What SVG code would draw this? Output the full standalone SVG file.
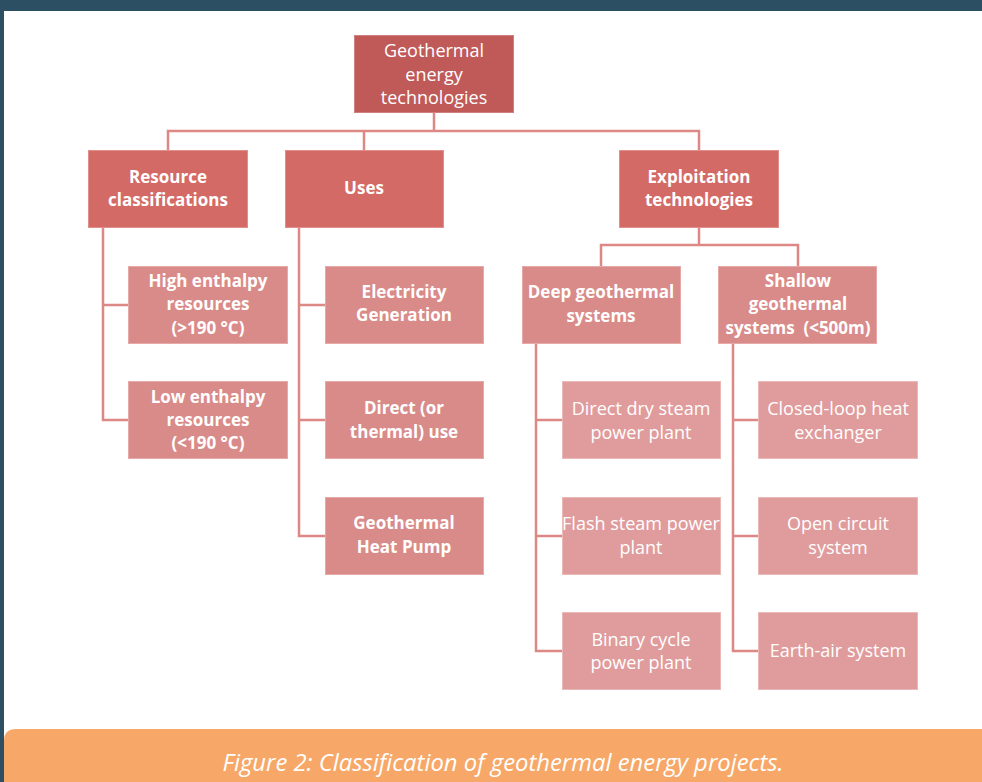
<svg xmlns="http://www.w3.org/2000/svg" width="982" height="782" viewBox="0 0 982 782">
<style>
.t{font-family:"Open Sans","Liberation Sans",sans-serif;fill:#fff;text-anchor:middle;dominant-baseline:central}
.b{font-weight:bold;font-size:17px}
.r{font-size:18px}
.l1{fill:#c05a58;stroke:#cf807e;stroke-width:1}
.l2{fill:#d46a66;stroke:#e08f8c;stroke-width:1}
.l3{fill:#d98b89;stroke:#e6a9a7;stroke-width:1}
.l4{fill:#e09c9c;stroke:#ebb9b8;stroke-width:1}
.c{fill:none;stroke:#dc8985;stroke-width:2.5}
</style>
<rect x="0" y="0" width="982" height="782" fill="#2c4f63"/>
<rect x="4" y="11" width="978" height="771" fill="#ffffff"/>
<g id="connectors">
<path class="c" d="M434 113V131M168 150V131H699V150M364 131V150"/>
<path class="c" d="M103 228V420H128M103 305H128"/>
<path class="c" d="M299 228V536H325M299 305H325M299 420H325"/>
<path class="c" d="M699 228V245M601 266V245H798V266"/>
<path class="c" d="M536 344V651H562M536 420H562M536 536H562"/>
<path class="c" d="M733 344V651H758M733 420H758M733 536H758"/>
</g>
<g id="n-root"><rect class="l1" x="354.5" y="35.5" width="159" height="77"/><text class="t r" x="434" y="49.5">Geothermal</text><text class="t r" x="434" y="73.5">energy</text><text class="t r" x="434" y="96.5">technologies</text></g>
<g id="n-resource"><rect class="l2" x="88.5" y="150.5" width="159" height="77"/><text class="t b" x="168" y="176.5">Resource</text><text class="t b" x="168" y="199.5">classifications</text></g>
<g id="n-uses"><rect class="l2" x="285.5" y="150.5" width="158" height="77"/><text class="t b" x="364" y="187.5">Uses</text></g>
<g id="n-exploit"><rect class="l2" x="619.5" y="150.5" width="159" height="77"/><text class="t b" x="699" y="176.5">Exploitation</text><text class="t b" x="699" y="199.5">technologies</text></g>
<g id="n-high"><rect class="l3" x="128.5" y="266.5" width="159" height="77"/><text class="t b" x="208" y="280.5">High enthalpy</text><text class="t b" x="208" y="303.5">resources</text><text class="t b" x="208" y="327.5">(&gt;190 °C)</text></g>
<g id="n-low"><rect class="l3" x="128.5" y="381.5" width="159" height="77"/><text class="t b" x="208" y="396.5">Low enthalpy</text><text class="t b" x="208" y="419.5">resources</text><text class="t b" x="208" y="442.5">(&lt;190 °C)</text></g>
<g id="n-elec"><rect class="l3" x="325.5" y="266.5" width="158" height="77"/><text class="t b" x="404" y="291.5">Electricity</text><text class="t b" x="404" y="314.5">Generation</text></g>
<g id="n-direct"><rect class="l3" x="325.5" y="381.5" width="158" height="77"/><text class="t b" x="404" y="407.5">Direct (or</text><text class="t b" x="404" y="431.5">thermal) use</text></g>
<g id="n-ghp"><rect class="l3" x="325.5" y="497.5" width="158" height="77"/><text class="t b" x="404" y="522.5">Geothermal</text><text class="t b" x="404" y="546.5">Heat Pump</text></g>
<g id="n-deep"><rect class="l3" x="522.5" y="266.5" width="158" height="77"/><text class="t b" x="601" y="291.5">Deep geothermal</text><text class="t b" x="601" y="315.5">systems</text></g>
<g id="n-shallow"><rect class="l3" x="718.5" y="266.5" width="158" height="77"/><text class="t b" x="798" y="280.5">Shallow</text><text class="t b" x="798" y="303.5">geothermal</text><text class="t b" x="798" y="327.5" xml:space="preserve">systems  (&lt;500m)</text></g>
<g id="n-dry"><rect class="l4" x="562.5" y="381.5" width="158" height="77"/><text class="t r" x="641" y="407.5">Direct dry steam</text><text class="t r" x="641" y="431.5">power plant</text></g>
<g id="n-flash"><rect class="l4" x="562.5" y="497.5" width="158" height="77"/><text class="t r" x="641" y="522.5">Flash steam power</text><text class="t r" x="641" y="546.5">plant</text></g>
<g id="n-binary"><rect class="l4" x="562.5" y="612.5" width="158" height="77"/><text class="t r" x="641" y="638.5">Binary cycle</text><text class="t r" x="641" y="661.5">power plant</text></g>
<g id="n-closed"><rect class="l4" x="758.5" y="381.5" width="159" height="77"/><text class="t r" x="838" y="407.5">Closed-loop heat</text><text class="t r" x="838" y="431.5">exchanger</text></g>
<g id="n-open"><rect class="l4" x="758.5" y="497.5" width="159" height="77"/><text class="t r" x="838" y="522.5">Open circuit</text><text class="t r" x="838" y="546.5">system</text></g>
<g id="n-earth"><rect class="l4" x="758.5" y="612.5" width="159" height="77"/><text class="t r" x="838" y="649.5">Earth-air system</text></g>
<path d="M4 782V741Q4 729 16 729H982V782Z" fill="#f7a868"/>
<text x="503" y="762" font-family="'Open Sans','Liberation Sans',sans-serif" font-style="italic" font-size="23" fill="#fff" text-anchor="middle" dominant-baseline="central" textLength="561" lengthAdjust="spacingAndGlyphs">Figure 2: Classification of geothermal energy projects.</text>
</svg>
